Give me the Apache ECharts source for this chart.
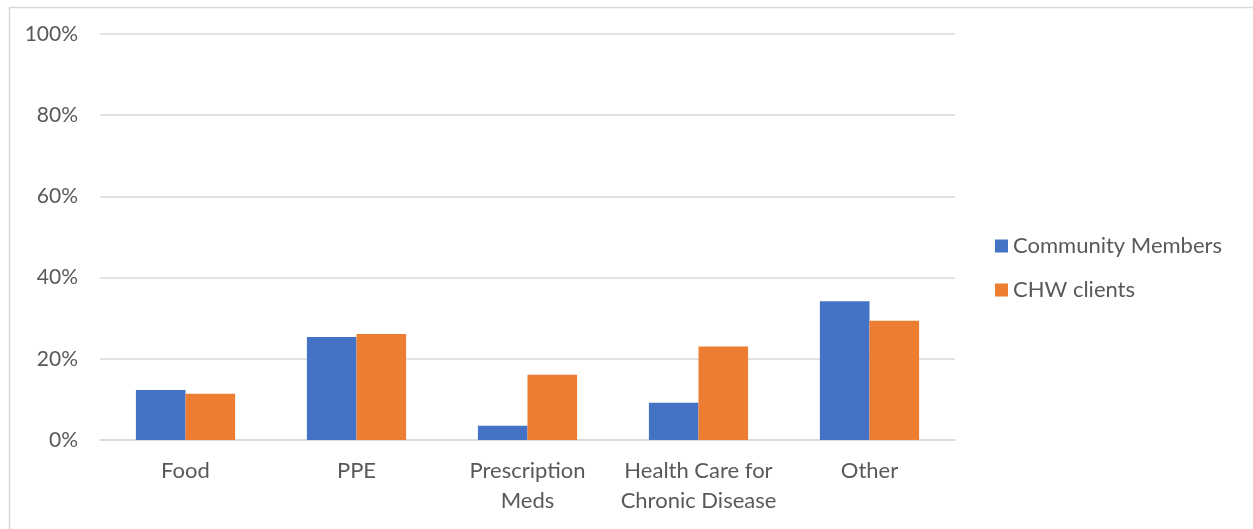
<!DOCTYPE html>
<html>
<head>
<meta charset="utf-8">
<script src="https://cdn.jsdelivr.net/npm/echarts@6/dist/echarts.min.js"></script>
<style>
  html, body { margin: 0; padding: 0; background: #fff; }
  #main { width: 1253px; height: 529px; }
</style>
</head>
<body>
<div id="main"></div>
<script>
// categories and values
var categories = ['Food', 'PPE', 'Prescription\nMeds', 'Health Care for\nChronic Disease', 'Other'];
var communityMembers = [12.3, 25.4, 3.5, 9.2, 34.2];
var chwClients = [11.4, 26.1, 16.1, 23.0, 29.4];
var yTicks = [0, 20, 40, 60, 80, 100];

var myChart = echarts.init(document.getElementById('main'));
var font = 'Lato, Open Sans, sans-serif';

option = {
    animation: false,
    textStyle: { fontFamily: font },
    graphic: [
        {
            type: 'rect',
            left: 7, top: 5,
            shape: { width: 1250, height: 530 },
            style: { fill: 'none', stroke: '#d9d9d9', lineWidth: 1.5 },
            silent: true
        }
    ],
    legend: {
        orient: 'vertical',
        left: 990,
        top: 230,
        itemWidth: 13,
        itemHeight: 13,
        itemGap: 22,
        icon: 'rect',
        textStyle: { color: '#595959', fontSize: 22, fontFamily: font },
        data: ['Community Members', 'CHW clients']
    },
    grid: { left: 100, right: 298, top: 34, bottom: 89 },
    xAxis: {
        type: 'category',
        data: categories,
        axisTick: { show: false },
        axisLine: { lineStyle: { color: '#d9d9d9', width: 1.5 } },
        axisLabel: {
            color: '#595959',
            fontSize: 22,
            lineHeight: 30,
            margin: 16,
            interval: 0,
            fontFamily: font
        }
    },
    yAxis: {
        type: 'value',
        min: yTicks[0],
        max: yTicks[yTicks.length - 1],
        interval: 20,
        axisLine: { show: false },
        axisTick: { show: false },
        splitLine: { lineStyle: { color: '#d9d9d9', width: 1.5 } },
        axisLabel: {
            color: '#595959',
            fontSize: 21,
            margin: 22,
            fontFamily: font,
            formatter: '{value}%'
        }
    },
    series: [
        {
            name: 'Community Members',
            type: 'bar',
            data: communityMembers,
            barGap: '0%',
            barCategoryGap: '42%',
            itemStyle: { color: '#4472c4' }
        },
        {
            name: 'CHW clients',
            type: 'bar',
            data: chwClients,
            itemStyle: { color: '#ed7d31' }
        }
    ]
};
myChart.setOption(option);
</script>
</body>
</html>
